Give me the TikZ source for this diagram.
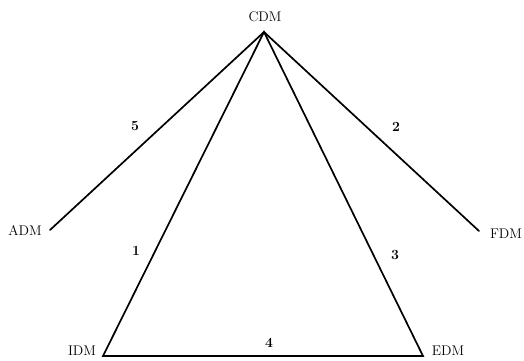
\documentclass[tikz,border=0pt]{standalone}
\usepackage{tikz}
\usetikzlibrary{positioning}

\begin{document}
\begin{tikzpicture}[x=1pt, y=-1pt,
    link/.style={line width=1.7pt, line cap=round, line join=miter},
    dm/.style={font=\fontsize{14}{16}\selectfont, inner sep=0pt},
    num/.style={font=\fontsize{14}{16}\selectfont\bfseries, inner sep=0pt}
]
\useasboundingbox (0,0) rectangle (524,360);
% Corners
\coordinate (cdm) at (264,32);
\coordinate (adm) at (50,230);
\coordinate (fdm) at (479,231);
\coordinate (idm) at (103,356);
\coordinate (edm) at (423,356);

% Links
\draw[link] (adm) -- (cdm) -- (fdm);
\draw[link] (idm) -- (cdm) -- (edm) -- cycle;

% Names
\node[dm] (cdmlab) at (265,17) {CDM};
\node[dm] (admlab) at (25,230) {ADM};
\node[dm] (fdmlab) at (506,234) {FDM};
\node[dm] (idmlab) at (82,351) {IDM};
\node[dm] (edmlab) at (448,351) {EDM};

% Numbers
\node[num] (n5) at (135,126) {5};
\node[num] (n2) at (396,127) {2};
\node[num] (n1) at (136,251) {1};
\node[num] (n3) at (395,255) {3};
\node[num] (n4) at (269,343) {4};
\end{tikzpicture}
\end{document}
